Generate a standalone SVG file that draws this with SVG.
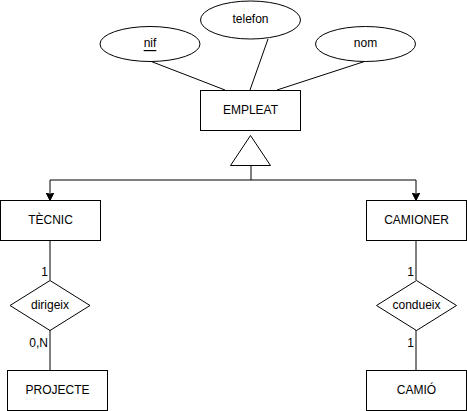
<svg xmlns="http://www.w3.org/2000/svg" width="467" height="411" viewBox="0 0 467 411">
<style>
.s{fill:#fff;stroke:#000;stroke-width:1}
.l{fill:none;stroke:#000;stroke-width:1}
text{font-family:"Liberation Sans",Arial,sans-serif;font-size:12px;fill:#000}
.c{text-anchor:middle;dominant-baseline:central}
.r{text-anchor:end}
</style>
<defs>
<marker id="ah" markerWidth="8" markerHeight="8" refX="7" refY="4" orient="auto" markerUnits="userSpaceOnUse">
<path d="M0,0 L8,4 L0,8 L2,4 Z" fill="#000" stroke="#000" stroke-width="1"/>
</marker>
</defs>
<rect width="467" height="411" fill="#fff"/>
<g id="connectors">
<line class="l" x1="150" y1="61" x2="225" y2="90"/>
<line class="l" x1="268" y1="39" x2="250" y2="90"/>
<line class="l" x1="366" y1="61" x2="277" y2="90"/>
<polyline class="l" points="251,165.5 251,180"/>
<polyline class="l" points="50,180 416,180"/>
<line class="l" x1="50" y1="180" x2="50" y2="199.5" marker-end="url(#ah)"/>
<line class="l" x1="416" y1="180" x2="416" y2="199.5" marker-end="url(#ah)"/>
<line class="l" x1="50" y1="240" x2="50" y2="280"/>
<line class="l" x1="50" y1="330" x2="50" y2="370"/>
<line class="l" x1="416" y1="240" x2="416" y2="280"/>
<line class="l" x1="416" y1="330" x2="416" y2="370"/>
<text x="48" y="276" class="r">1</text>
<text x="48" y="347" class="r">0,N</text>
<text x="414" y="276" class="r">1</text>
<text x="414" y="347" class="r">1</text>
</g>
<g id="nif">
<ellipse class="s" cx="150" cy="44" rx="50" ry="17.5"/>
<text x="150" y="43" class="c" text-decoration="underline">nif</text>
</g>
<g id="telefon">
<ellipse class="s" cx="250.5" cy="20" rx="50" ry="19"/>
<text x="250.5" y="19" class="c">telefon</text>
</g>
<g id="nom">
<ellipse class="s" cx="365.5" cy="44" rx="50" ry="17.5"/>
<text x="365.5" y="43" class="c">nom</text>
</g>
<g id="empleat">
<rect class="s" x="200.5" y="90.5" width="100" height="40"/>
<text x="250.5" y="110" class="c">EMPLEAT</text>
</g>
<g id="isa">
<polygon class="s" points="250.5,135.5 230.5,165.5 270.5,165.5"/>
</g>
<g id="tecnic">
<rect class="s" x="0.5" y="200.5" width="100" height="40"/>
<text x="50.5" y="220" class="c">TÈCNIC</text>
</g>
<g id="camioner">
<rect class="s" x="366.5" y="200.5" width="100" height="40"/>
<text x="416.5" y="220" class="c">CAMIONER</text>
</g>
<g id="dirigeix">
<polygon class="s" points="50,280.5 90,305.5 50,330.5 10,305.5"/>
<text x="50" y="305" class="c">dirigeix</text>
</g>
<g id="condueix">
<polygon class="s" points="416.5,280.5 456.5,305.5 416.5,330.5 376.5,305.5"/>
<text x="416.5" y="305" class="c">condueix</text>
</g>
<g id="projecte">
<rect class="s" x="7.5" y="370.5" width="100" height="40"/>
<text x="57.5" y="390" class="c">PROJECTE</text>
</g>
<g id="camio">
<rect class="s" x="366.5" y="370.5" width="100" height="40"/>
<text x="416.5" y="390" class="c">CAMIÓ</text>
</g>
</svg>
